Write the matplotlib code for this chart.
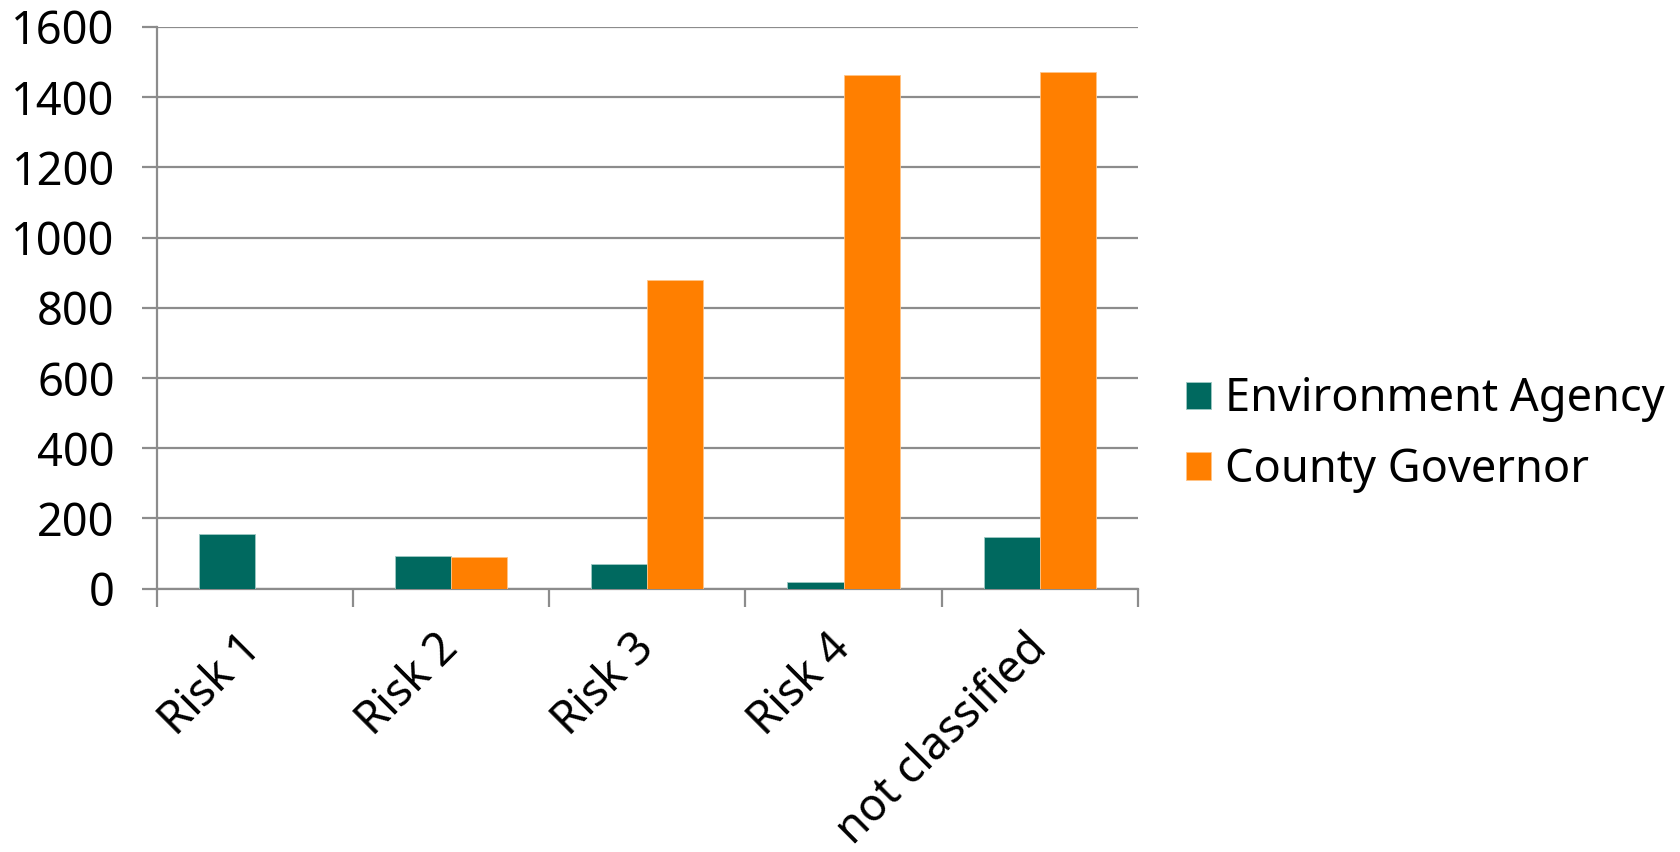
import numpy as np
import matplotlib.pyplot as plt

categories = ['Risk 1', 'Risk 2', 'Risk 3', 'Risk 4', 'not classified']
environment_agency = [156, 94, 71, 19, 146]
county_governor = [0, 89, 880, 1462, 1470]

teal = '#00695F'
orange = '#FF7F00'
grid_grey = '#8C8C8C'
fs = 32.5

plt.rcParams['font.family'] = ['Noto Sans', 'DejaVu Sans']

fig = plt.figure(figsize=(16.81, 8.52), dpi=100)
ax = fig.add_axes([0.0931, 0.309, 0.5839, 0.6595])

x = np.arange(len(categories))
w = 1 / 3.5  # gap width 150%
ax.bar(x - w / 2, environment_agency, w, color=teal, edgecolor='#9fc9c4', linewidth=0.6,
       label='Environment Agency', zorder=3)
ax.bar(x + w / 2, county_governor, w, color=orange, edgecolor='#ffc488', linewidth=0.6,
       label='County Governor', zorder=3)

ax.set_xlim(-0.5, len(categories) - 0.5)
ax.set_ylim(0, 1600)
ax.set_yticks(np.arange(0, 1601, 200))
ax.yaxis.grid(True, color=grid_grey, linewidth=1.6, zorder=0)
ax.tick_params(axis='y', length=11, width=1.6, color=grid_grey, labelsize=fs, pad=19)

# category boundaries carry the tick marks, the labels sit on minor ticks
ax.set_xticks(np.arange(-0.5, len(categories), 1))
ax.set_xticklabels([])
ax.set_xticks(x, minor=True)
ax.set_xticklabels(categories, minor=True, rotation=45, ha='right', va='center',
                   rotation_mode='anchor', fontsize=fs)
ax.tick_params(axis='x', which='major', length=13, width=1.6, color=grid_grey)
ax.tick_params(axis='x', which='minor', length=0, pad=38)

for side in ['top', 'right']:
    ax.spines[side].set_visible(False)
for side in ['left', 'bottom']:
    ax.spines[side].set_color(grid_grey)
    ax.spines[side].set_linewidth(1.6)

fig.legend(loc='center left', bbox_to_anchor=(0.6815, 0.490), frameon=False, fontsize=fs,
           handlelength=0.55, handleheight=0.55, handletextpad=0.3, labelspacing=0.55)

fig.savefig('out.png', dpi=100)
